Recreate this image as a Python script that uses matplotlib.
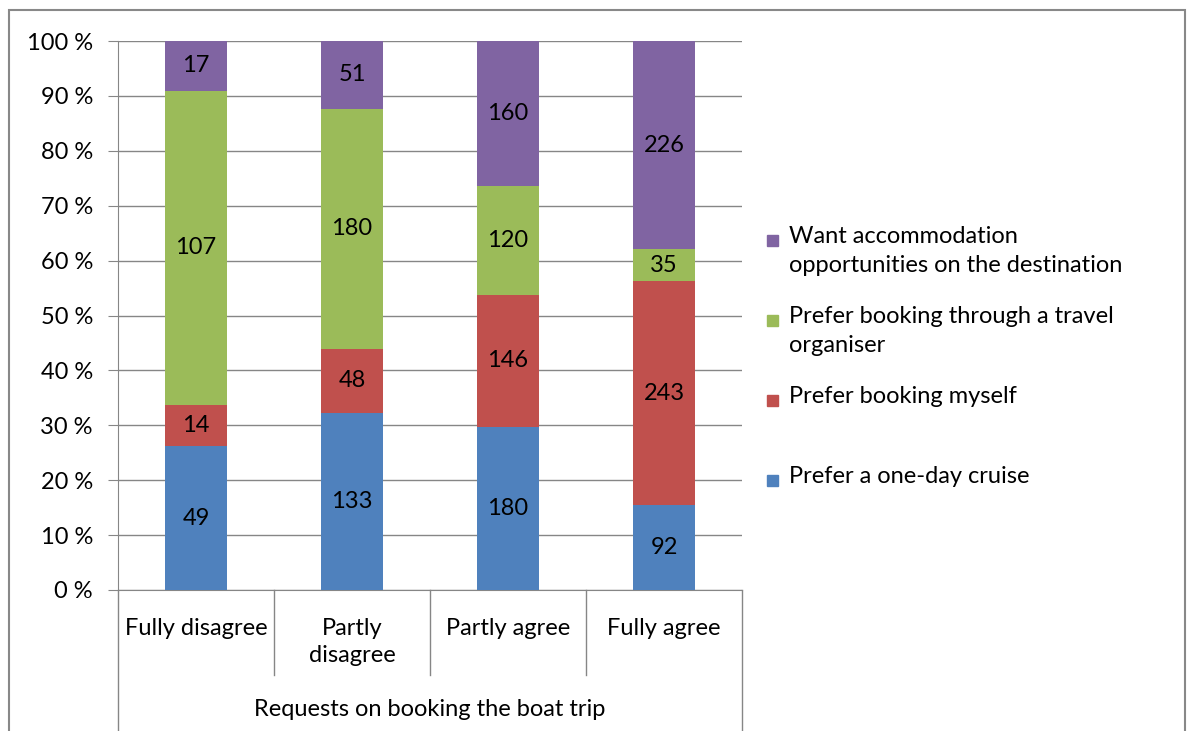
import matplotlib.pyplot as plt
import matplotlib.transforms as mtransforms
from matplotlib.patches import Rectangle
import numpy as np

plt.rcParams['font.family'] = ['Lato', 'DejaVu Sans']

categories = ['Fully disagree', 'Partly\ndisagree', 'Partly agree', 'Fully agree']
axis_title = 'Requests on booking the boat trip'

series_names = ['Prefer a one-day cruise', 'Prefer booking myself',
                'Prefer booking through a travel\norganiser',
                'Want accommodation\nopportunities on the destination']
one_day_cruise = [49, 133, 180, 92]
booking_myself = [14, 48, 146, 243]
travel_organiser = [107, 180, 120, 35]
accommodation = [17, 51, 160, 226]

colors = ['#4F81BD', '#C0504D', '#9BBB59', '#8064A2']
FS = 17

values = np.array([one_day_cruise, booking_myself, travel_organiser, accommodation], dtype=float)
totals = values.sum(axis=0)
shares = values / totals * 100

W, H = 1188, 731
fig = plt.figure(figsize=(W / 100, H / 100), dpi=100)
ax = fig.add_axes([118 / W, 1 - 590 / H, (742 - 118) / W, (590 - 41) / H])

# outer chart border (bottom runs off the image)
fig.patches.append(Rectangle((9 / W, -0.02), (1185 - 9) / W, (H - 10) / H + 0.02,
                             transform=fig.transFigure, fill=False,
                             edgecolor='#888888', linewidth=1.5))

x = np.arange(len(categories))
bottom = np.zeros(len(categories))
for i in range(len(series_names)):
    ax.bar(x, shares[i], 0.4, bottom=bottom, color=colors[i], zorder=3)
    for j in range(len(categories)):
        ax.text(x[j], bottom[j] + shares[i][j] / 2, f'{int(values[i][j])}',
                ha='center', va='center', fontsize=FS, color='black', zorder=4)
    bottom += shares[i]

ax.set_xlim(-0.5, len(categories) - 0.5)
ax.set_ylim(0, 100)
ax.set_yticks(np.arange(0, 101, 10))
ax.set_yticklabels([f'{v} %' for v in range(0, 101, 10)], fontsize=FS)
ax.yaxis.grid(True, color='#868686', linewidth=1, zorder=0)
ax.tick_params(axis='y', length=7, color='#868686', pad=11)
ax.tick_params(axis='x', length=0, pad=20)
ax.set_xticks(x)
ax.set_xticklabels(categories, fontsize=FS, va='top', linespacing=1.35)
for s in ['top', 'right']:
    ax.spines[s].set_visible(False)
ax.spines['left'].set_color('#868686')
ax.spines['bottom'].set_color('#868686')

# category separators below the axis
trans = mtransforms.blended_transform_factory(ax.transData, ax.transAxes)
for k, xs in enumerate(np.arange(-0.5, len(categories), 1.0)):
    outer = k == 0 or k == len(categories)
    ax.plot([xs, xs], [0, -0.3 if outer else -0.155], transform=trans,
            color='#868686', linewidth=1, clip_on=False)

fig.text((118 + 742) / 2 / W, 1 - 709 / H, axis_title, ha='center', va='center', fontsize=FS)

# legend, top entry is the last series
for k, i in enumerate(reversed(range(len(series_names)))):
    top = 226 + 80 * k
    fig.patches.append(Rectangle((767 / W, 1 - (top + 20) / H), 11 / W, 11 / H,
                                 transform=fig.transFigure, color=colors[i]))
    fig.text(789 / W, 1 - top / H, series_names[i], ha='left', va='top',
             fontsize=FS, linespacing=1.45)

fig.savefig('out.png', dpi=100)
